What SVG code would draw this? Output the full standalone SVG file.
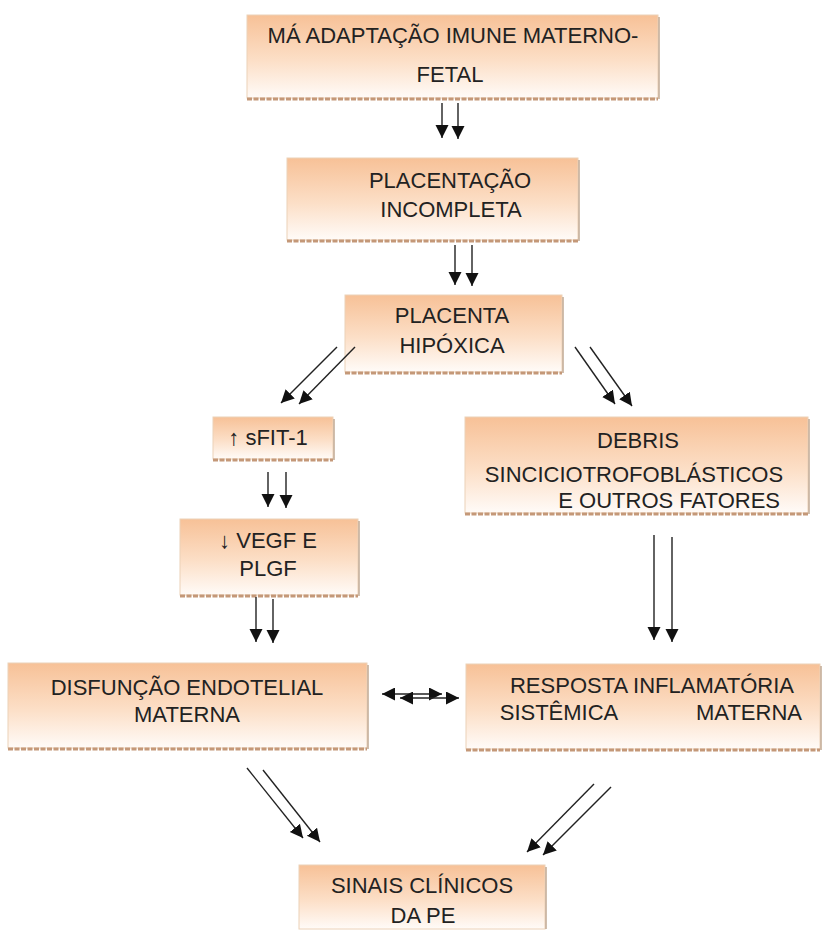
<svg xmlns="http://www.w3.org/2000/svg" width="825" height="932" viewBox="0 0 825 932">
<defs>
<linearGradient id="g" x1="0" y1="0" x2="0" y2="1">
<stop offset="0" stop-color="#f7c197"/>
<stop offset="0.55" stop-color="#fcdfc7"/>
<stop offset="1" stop-color="#fffbf8"/>
</linearGradient>
<marker id="ah" markerUnits="userSpaceOnUse" markerWidth="13" markerHeight="14" refX="13" refY="6.5" orient="auto">
<path d="M0,0 L13,6.5 L0,13 Z" fill="#111"/>
</marker>
<marker id="as" markerUnits="userSpaceOnUse" markerWidth="13" markerHeight="14" refX="0" refY="6.5" orient="auto">
<path d="M13,0 L0,6.5 L13,13 Z" fill="#111"/>
</marker>
</defs>
<style>
.box{fill:url(#g);stroke:#ecd2b8;stroke-width:1}
.sb{stroke:#c49878;stroke-width:3;stroke-dasharray:5 1.5;fill:none}
.sr{stroke:#c0a892;stroke-width:1.5;fill:none}
.t{font-family:"Liberation Sans",Arial,sans-serif;font-size:22px;fill:#222;text-anchor:middle}
.c line{stroke:#222;stroke-width:1.4;marker-end:url(#ah)}
</style>
<rect width="825" height="932" fill="#fff"/>

<g id="n1">
<rect class="box" x="247" y="15" width="411" height="83"/>
<line class="sb" x1="247" y1="99" x2="658" y2="99"/>
<line class="sr" x1="659" y1="17" x2="659" y2="99"/>
<text class="t" x="453" y="43">MÁ ADAPTAÇÃO IMUNE MATERNO-</text>
<text class="t" x="450" y="82">FETAL</text>
</g>

<g id="n2">
<rect class="box" x="287" y="158" width="291" height="82"/>
<line class="sb" x1="287" y1="241" x2="578" y2="241"/>
<line class="sr" x1="579" y1="160" x2="579" y2="241"/>
<text class="t" x="450" y="188">PLACENTAÇÃO</text>
<text class="t" x="451" y="217">INCOMPLETA</text>
</g>

<g id="n3">
<rect class="box" x="345" y="295" width="217" height="77"/>
<line class="sb" x1="345" y1="373" x2="562" y2="373"/>
<line class="sr" x1="563" y1="297" x2="563" y2="373"/>
<text class="t" x="452" y="323">PLACENTA</text>
<text class="t" x="452" y="353">HIPÓXICA</text>
</g>

<g id="n4">
<rect class="box" x="213" y="417" width="120" height="42"/>
<line class="sb" x1="213" y1="460" x2="333" y2="460"/>
<line class="sr" x1="334" y1="419" x2="334" y2="460"/>
<text class="t" x="268" y="445">↑ sFIT-1</text>
</g>

<g id="n5">
<rect class="box" x="465" y="417" width="343" height="96"/>
<line class="sb" x1="465" y1="514" x2="808" y2="514"/>
<line class="sr" x1="809" y1="419" x2="809" y2="514"/>
<text class="t" x="638" y="448">DEBRIS</text>
<text class="t" x="634" y="482">SINCICIOTROFOBLÁSTICOS</text>
<text class="t" x="780" y="508" style="text-anchor:end">E OUTROS FATORES</text>
</g>

<g id="n6">
<rect class="box" x="180" y="519" width="178" height="76"/>
<line class="sb" x1="180" y1="596" x2="358" y2="596"/>
<line class="sr" x1="359" y1="521" x2="359" y2="596"/>
<text class="t" x="268" y="548">↓ VEGF E</text>
<text class="t" x="268" y="576">PLGF</text>
</g>

<g id="n7">
<rect class="box" x="8" y="663" width="359" height="85"/>
<line class="sb" x1="8" y1="749" x2="367" y2="749"/>
<line class="sr" x1="368" y1="665" x2="368" y2="749"/>
<text class="t" x="187" y="695">DISFUNÇÃO ENDOTELIAL</text>
<text class="t" x="187" y="722">MATERNA</text>
</g>

<g id="n8">
<rect class="box" x="466" y="664" width="354" height="85"/>
<line class="sb" x1="466" y1="750" x2="820" y2="750"/>
<line class="sr" x1="821" y1="666" x2="821" y2="750"/>
<text class="t" x="652" y="693">RESPOSTA INFLAMATÓRIA</text>
<text class="t" x="559" y="720">SISTÊMICA</text>
<text class="t" x="749" y="720">MATERNA</text>
</g>

<g id="n9">
<rect class="box" x="299" y="865" width="246" height="64"/>
<line class="sr" x1="546" y1="867" x2="546" y2="929"/>
<text class="t" x="422" y="893">SINAIS CLÍNICOS</text>
<text class="t" x="423" y="923">DA PE</text>
</g>

<g id="connectors" class="c">
<line x1="442" y1="103" x2="442" y2="138"/>
<line x1="458" y1="103" x2="458" y2="139"/>
<line x1="455" y1="245" x2="455" y2="285"/>
<line x1="472" y1="245" x2="472" y2="286"/>
<line x1="337" y1="347" x2="281" y2="403"/>
<line x1="355" y1="347" x2="299" y2="404"/>
<line x1="575" y1="347" x2="615" y2="404"/>
<line x1="590" y1="347" x2="632" y2="406"/>
<line x1="268" y1="472" x2="268" y2="507"/>
<line x1="286" y1="472" x2="286" y2="508"/>
<line x1="654" y1="535" x2="654" y2="640"/>
<line x1="672" y1="537" x2="672" y2="642"/>
<line x1="256" y1="597" x2="256" y2="642"/>
<line x1="273" y1="599" x2="273" y2="643"/>
<line x1="382" y1="694" x2="442" y2="694" marker-start="url(#as)"/>
<line x1="400" y1="698" x2="459" y2="698" marker-start="url(#as)"/>
<line x1="247" y1="768" x2="303" y2="838"/>
<line x1="263" y1="770" x2="320" y2="842"/>
<line x1="594" y1="784" x2="527" y2="852"/>
<line x1="611" y1="787" x2="543" y2="855"/>
</g>
</svg>
